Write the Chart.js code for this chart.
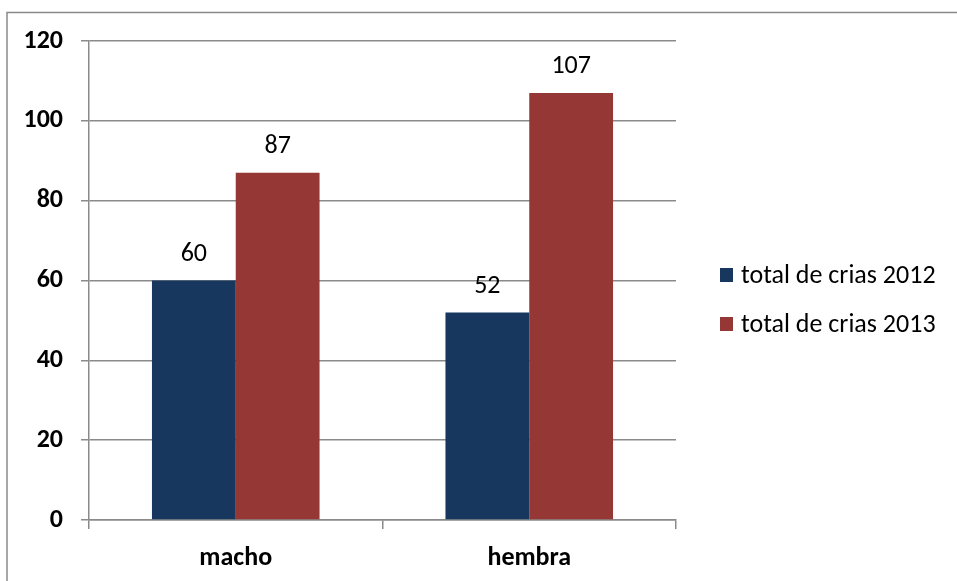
<!DOCTYPE html>
<html>
<head>
<meta charset="utf-8">
<script src="https://cdn.jsdelivr.net/npm/chart.js@4/dist/chart.umd.min.js"></script>
<style>
  html, body { margin: 0; padding: 0; background: #fff; }
  #wrap { width: 957px; height: 581px; }
</style>
</head>
<body>
<div id="wrap"><canvas id="c" width="957" height="581"></canvas></div>
<script>
const categories = ['macho', 'hembra'];
const seriesNames = ['total de crias 2012', 'total de crias 2013'];
const crias2012 = [60, 52];
const crias2013 = [87, 107];
const seriesColors = ['#17375E', '#953735'];

const FONT = "Carlito, Lato, 'Liberation Sans', sans-serif";
const AXIS_GREY = '#8a8a8a';

// Outer frame of the chart object
const framePlugin = {
  id: 'frame',
  beforeDraw(chart) {
    const ctx = chart.ctx;
    ctx.save();
    ctx.fillStyle = '#fff';
    ctx.fillRect(0, 0, chart.width, chart.height);
    ctx.strokeStyle = '#8a8a8a';
    ctx.lineWidth = 1.5;
    ctx.beginPath();
    ctx.moveTo(7, chart.height);
    ctx.lineTo(7, 12.5);
    ctx.lineTo(chart.width, 12.5);
    ctx.stroke();
    ctx.restore();
  }
};

// Value written above each bar
const valueLabels = {
  id: 'valueLabels',
  afterDatasetsDraw(chart) {
    const ctx = chart.ctx;
    ctx.save();
    ctx.font = '26px ' + FONT;
    ctx.fillStyle = '#000';
    ctx.textAlign = 'center';
    ctx.textBaseline = 'middle';
    chart.data.datasets.forEach((ds, i) => {
      chart.getDatasetMeta(i).data.forEach((bar, j) => {
        ctx.fillText(String(ds.data[j]), bar.x, bar.y - 26);
      });
    });
    ctx.restore();
  }
};

// Legend to the right of the plot
const sideLegend = {
  id: 'sideLegend',
  afterDraw(chart) {
    const ctx = chart.ctx;
    const rows = [275, 324];
    ctx.save();
    ctx.font = '26px ' + FONT;
    ctx.textAlign = 'left';
    ctx.textBaseline = 'middle';
    chart.data.datasets.forEach((ds, i) => {
      const y = rows[i];
      ctx.fillStyle = ds.backgroundColor;
      ctx.fillRect(720, y - 7, 13, 14);
      ctx.fillStyle = '#000';
      ctx.fillText(ds.label, 741, y + 1);
    });
    ctx.restore();
  }
};

new Chart(document.getElementById('c'), {
  type: 'bar',
  data: {
    labels: categories,
    datasets: [
      { label: seriesNames[0], data: crias2012, backgroundColor: seriesColors[0] },
      { label: seriesNames[1], data: crias2013, backgroundColor: seriesColors[1] }
    ]
  },
  plugins: [framePlugin, valueLabels, sideLegend],
  options: {
    responsive: false,
    animation: false,
    devicePixelRatio: 1,
    layout: { padding: { top: 41, right: 281, bottom: 0, left: 0 } },
    datasets: {
      bar: { barPercentage: 1, categoryPercentage: 0.571, borderWidth: 0 }
    },
    plugins: {
      legend: { display: false },
      tooltip: { enabled: false },
      title: { display: false }
    },
    scales: {
      x: {
        offset: true,
        grid: {
          offset: true,
          drawOnChartArea: false,
          drawTicks: true,
          tickLength: 9,
          color: AXIS_GREY,
          lineWidth: 1.5
        },
        border: { display: true, color: AXIS_GREY, width: 1.5 },
        ticks: {
          font: { family: FONT, size: 26, weight: 'bold' },
          color: '#000',
          padding: 14
        },
        afterFit(scale) { scale.height = 61; }
      },
      y: {
        min: 0,
        max: 120,
        ticks: {
          stepSize: 20,
          font: { family: FONT, size: 26, weight: 'bold' },
          color: '#000',
          padding: 18
        },
        grid: {
          color: AXIS_GREY,
          lineWidth: 1.5,
          tickLength: 8
        },
        border: { display: true, color: AXIS_GREY, width: 1.5 },
        afterFit(scale) { scale.width = 89; }
      }
    }
  }
});
</script>
</body>
</html>
